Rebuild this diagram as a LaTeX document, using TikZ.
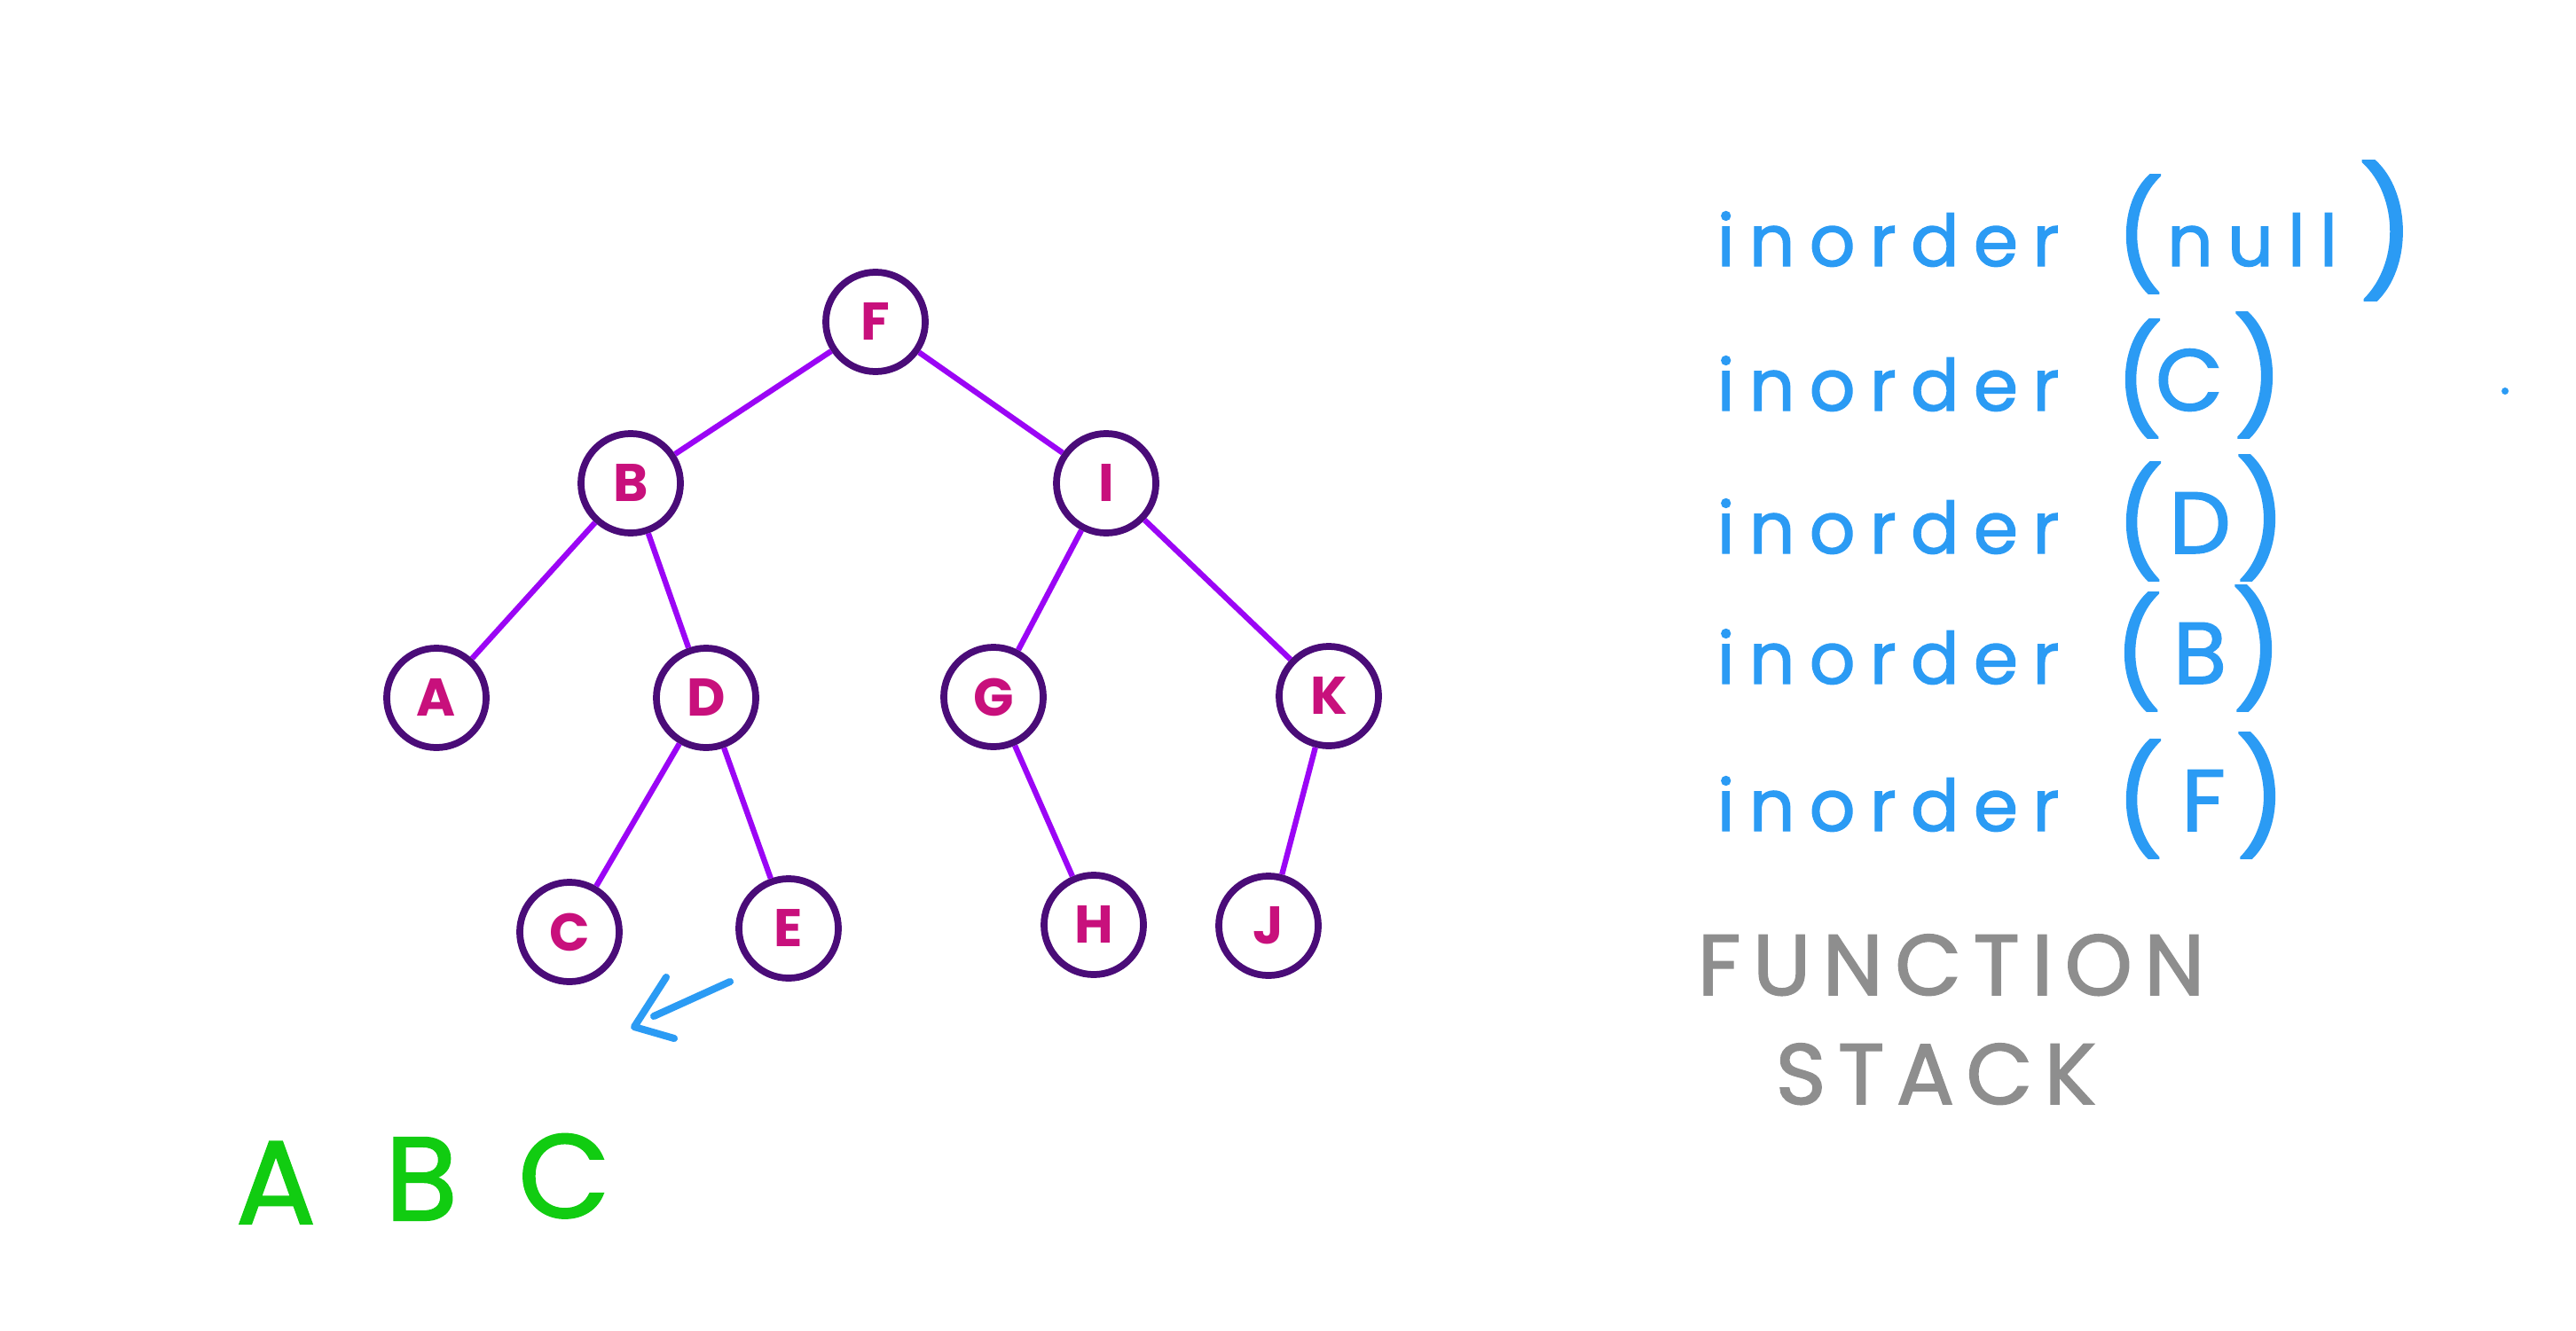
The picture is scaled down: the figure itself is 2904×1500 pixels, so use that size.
\documentclass[tikz,border=0pt]{standalone}
\usepackage{fontspec}
\setmainfont{Poppins}
\newfontfamily\callfont[LetterSpace=20, FakeBold=1.6]{Poppins}
\newfontfamily\markfont[FakeBold=1.6]{Poppins}
\newfontfamily\stackfont[LetterSpace=14, FakeBold=1.8]{Poppins}
\usetikzlibrary{calc}

\definecolor{ringc}{HTML}{4A0C78}
\definecolor{edgec}{HTML}{9B05F5}
\definecolor{labelc}{HTML}{C8107C}
\definecolor{callc}{HTML}{2B9BF4}
\definecolor{seqc}{HTML}{11CC11}
\definecolor{notec}{HTML}{8E8E8E}

\tikzset{
  treenode/.style={circle, draw=ringc, line width=2.2pt, minimum size=1.12cm,
    inner sep=0pt, fill=white, text=labelc,
    font=\fontsize{17}{17}\selectfont\bfseries},
  treeedge/.style={draw=edgec, line width=1.8pt},
  calltext/.style={inner sep=0pt, text=callc, font=\fontsize{23}{23}\selectfont\callfont},
  callparen/.style={inner sep=0pt, text=callc, font=\fontsize{34}{34}\selectfont\markfont},
  callarg/.style={inner sep=0pt, text=callc, font=\fontsize{28}{28}\selectfont\markfont},
  stacktext/.style={inner sep=0pt, text=notec, font=\fontsize{27.5}{27.5}\selectfont\stackfont},
  visited/.style={inner sep=0pt, text=seqc, font=\fontsize{38}{38}\selectfont\markfont},
  pointer/.style={draw=callc, line width=2.3pt, line cap=round, line join=round}
}

\begin{document}
\begin{tikzpicture}[x=0.01cm, y=-0.01cm]
  \useasboundingbox (0,0) rectangle (2904,1500);

  % binary tree
  \node[treenode] (F) at (987,363) {F};
  \node[treenode] (B) at (711,545) {B};
  \node[treenode] (I) at (1247,545) {I};
  \node[treenode] (A) at (492,787) {A};
  \node[treenode] (D) at (796,787) {D};
  \node[treenode] (G) at (1120,786) {G};
  \node[treenode] (K) at (1498,785) {K};
  \node[treenode] (C) at (642,1051) {C};
  \node[treenode] (E) at (889,1047) {E};
  \node[treenode] (H) at (1233,1043) {H};
  \node[treenode] (J) at (1430,1044) {J};

  \foreach \p/\c in {F/B, F/I, B/A, B/D, I/G, I/K, D/C, D/E, G/H, K/J}
    \draw[treeedge] (\p) -- (\c);

  % traversal pointer between E and C
  \coordinate (ptail) at (823,1107);
  \coordinate (pshaft) at (737,1146);
  \coordinate (parmA) at (751,1102);
  \coordinate (ptip) at (715,1158);
  \coordinate (parmB) at (760,1171);
  \draw[pointer] (ptail) -- (pshaft);
  \draw[pointer] (parmA) -- (ptip) -- (parmB);

  % visited sequence
  \node[visited, anchor=base] (vA) at (311,1380) {A};
  \node[visited, anchor=base] (vB) at (475,1376) {B};
  \node[visited, anchor=base] (vC) at (636,1373) {C};

  % function stack
  \foreach \n/\b/\lp/\ax/\arg/\rp/\rs in {
      1/300/2412/2539/{\fontsize{23}{23}\selectfont\callfont null}/2691/40,
      2/463/2411/2468/C/2546/36,
      3/624/2412/2480/D/2549/36,
      4/771/2410/2480/B/2545/36,
      5/937/2412/2484/F/2549/36} {
    \node[calltext, anchor=base west] (call\n) at (1935,\b) {inorder};
    \node[callparen] (lp\n) at (\lp,\b-36) {(};
    \node[callarg, anchor=base] (arg\n) at (\ax,\b) {\arg};
    \node[callparen, font=\fontsize{\rs}{\rs}\selectfont\markfont] (rp\n) at (\rp,\b-40) {)};
  }
  \fill[callc] (2824,441) circle (4);

  \node[stacktext, anchor=base west] (stack1) at (1913,1122) {FUNCTION};
  \node[stacktext, anchor=base west] (stack2) at (2001,1245) {STACK};
\end{tikzpicture}
\end{document}
